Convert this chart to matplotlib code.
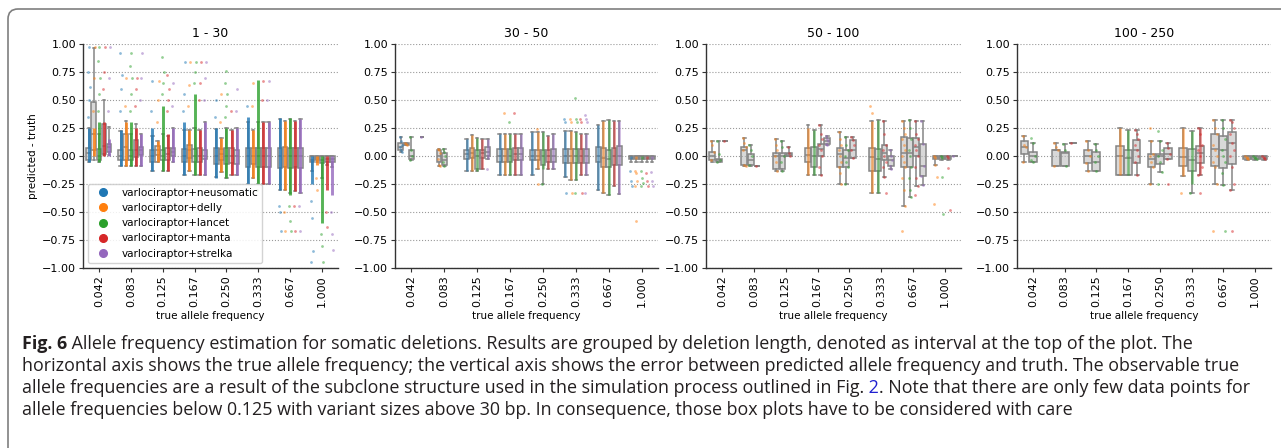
# Fig. 6 - allele frequency error for somatic deletions, 4 panels by deletion length
import numpy as np
import matplotlib.pyplot as plt
from matplotlib.lines import Line2D
from matplotlib.patches import FancyBboxPatch
from matplotlib.transforms import IdentityTransform
from matplotlib.text import Annotation

N = None

FREQS = ['0.042', '0.083', '0.125', '0.167', '0.250', '0.333', '0.667', '1.000']
CALLERS = ['neusomatic', 'delly', 'lancet', 'manta', 'strelka']
COLORS = ['#1f77b4', '#ff7f0e', '#2ca02c', '#d62728', '#9467bd']
TITLES = ['1 - 30', '30 - 50', '50 - 100', '100 - 250']
PANEL_CALLERS = [[0, 1, 2, 3, 4], [0, 1, 2, 3, 4], [1, 2, 3, 4], [1, 2, 3]]

# boxes: (whisker low, q1, median, q3, whisker high) per caller, per frequency
box_1_30 = [
    [(-0.05, -0.04, 0.03, 0.07, 0.25), (-0.09, -0.04, 0.0, 0.05, 0.22), (-0.13, -0.05, 0.0, 0.05, 0.18),
     (-0.17, -0.05, 0.0, 0.06, 0.23), (-0.19, -0.07, 0.0, 0.07, 0.24), (-0.25, -0.1, 0.0, 0.07, 0.3),
     (-0.3, -0.11, 0.0, 0.07, 0.33), (-0.13, -0.05, -0.04, 0.0, 0.0)],
    [(-0.04, 0.05, 0.2, 0.48, 0.96), (-0.09, -0.04, 0.08, 0.2, 0.31), (-0.05, 0.01, 0.05, 0.09, 0.13),
     (-0.13, -0.02, 0.05, 0.1, 0.23), (-0.14, -0.04, 0.02, 0.06, 0.16), (-0.2, -0.07, 0.0, 0.07, 0.23),
     (-0.3, -0.1, 0.0, 0.08, 0.31), (-0.05, -0.04, -0.02, 0.0, 0.0)],
    [(-0.05, -0.04, 0.0, 0.06, 0.2), (-0.09, -0.04, 0.0, 0.05, 0.2), (-0.13, -0.04, 0.0, 0.05, 0.2),
     (-0.17, -0.05, 0.0, 0.06, 0.25), (-0.2, -0.07, 0.0, 0.07, 0.25), (-0.25, -0.1, 0.0, 0.07, 0.3),
     (-0.33, -0.11, 0.0, 0.07, 0.33), (-0.2, -0.06, -0.04, 0.0, 0.0)],
    [(0.01, 0.02, 0.09, 0.29, 0.5), (-0.09, -0.01, 0.05, 0.14, 0.29), (-0.13, -0.04, 0.02, 0.07, 0.18),
     (-0.17, -0.05, 0.0, 0.07, 0.23), (-0.17, -0.06, 0.0, 0.07, 0.23), (-0.25, -0.1, 0.0, 0.07, 0.3),
     (-0.31, -0.1, 0.0, 0.07, 0.31), (-0.08, -0.05, -0.03, 0.0, 0.0)],
    [(0.01, 0.04, 0.08, 0.11, 0.26), (-0.09, 0.01, 0.05, 0.08, 0.2), (-0.05, 0.0, 0.04, 0.07, 0.25),
     (-0.17, -0.03, 0.0, 0.05, 0.3), (-0.17, -0.07, 0.0, 0.05, 0.25), (-0.25, -0.1, 0.0, 0.07, 0.3),
     (-0.33, -0.11, 0.0, 0.07, 0.33), (-0.1, -0.05, -0.03, 0.0, 0.0)],
]
box_30_50 = [
    [(0.04, 0.05, 0.08, 0.12, 0.17), N, (-0.13, -0.03, 0.02, 0.05, 0.15), (-0.17, -0.05, 0.0, 0.06, 0.2),
     (-0.17, -0.04, 0.0, 0.05, 0.21), (-0.19, -0.06, 0.0, 0.06, 0.22), (-0.3, -0.05, 0.0, 0.08, 0.28),
     (-0.05, -0.03, -0.01, 0.0, 0.0)],
    [(0.1, 0.1, 0.11, 0.12, 0.12), (-0.09, -0.05, 0.0, 0.05, 0.06), (-0.13, -0.02, 0.03, 0.07, 0.19),
     (-0.17, -0.05, 0.0, 0.06, 0.2), (-0.12, -0.04, 0.0, 0.05, 0.21), (-0.21, -0.06, 0.0, 0.06, 0.22),
     (-0.33, -0.1, -0.02, 0.07, 0.31), (-0.05, -0.03, -0.01, 0.0, 0.0)],
    [(-0.04, -0.03, 0.0, 0.05, 0.17), (-0.09, -0.08, -0.04, 0.03, 0.06), (-0.13, -0.12, 0.0, 0.05, 0.16),
     (-0.17, -0.05, 0.0, 0.06, 0.2), (-0.25, -0.08, 0.0, 0.05, 0.21), (-0.21, -0.06, 0.0, 0.06, 0.21),
     (-0.35, -0.1, -0.03, 0.05, 0.32), (-0.05, -0.03, -0.01, 0.0, 0.0)],
    [N, N, (-0.12, -0.02, 0.03, 0.05, 0.15), (-0.17, -0.04, 0.02, 0.07, 0.2),
     (-0.12, -0.05, 0.0, 0.05, 0.18), (-0.17, -0.06, 0.0, 0.06, 0.2), (-0.27, -0.08, 0.0, 0.07, 0.31),
     (-0.05, -0.03, -0.01, 0.0, 0.0)],
    [(0.17,), N, (-0.03, 0.0, 0.04, 0.08, 0.15), (-0.17, -0.04, 0.02, 0.07, 0.2),
     (-0.12, -0.05, 0.0, 0.06, 0.2), (-0.17, -0.06, 0.0, 0.06, 0.2), (-0.34, -0.08, 0.0, 0.09, 0.31),
     (-0.05, -0.03, -0.01, 0.0, 0.0)],
]
box_50_100 = [
    [(-0.05, -0.04, 0.0, 0.04, 0.13), (-0.09, -0.08, 0.05, 0.08, 0.16), (-0.13, -0.12, 0.0, 0.03, 0.15),
     (-0.17, -0.05, 0.01, 0.07, 0.28), (-0.25, -0.1, 0.02, 0.07, 0.21), (-0.33, -0.13, -0.01, 0.07, 0.31),
     (-0.45, -0.1, 0.03, 0.17, 0.31), (-0.08, -0.03, -0.01, 0.0, 0.0)],
    [(-0.05, -0.05, -0.04, -0.03, 0.13), (-0.09, -0.08, -0.04, 0.02, 0.1), (-0.13, -0.12, 0.0, 0.03, 0.13),
     (-0.17, -0.1, 0.0, 0.08, 0.23), (-0.25, -0.1, -0.02, 0.05, 0.17), (-0.33, -0.13, -0.03, 0.06, 0.32),
     (-0.37, -0.1, 0.03, 0.16, 0.32), (-0.04, -0.03, -0.01, 0.0, 0.0)],
    [(0.13,), (-0.09,), (0.0, 0.0, 0.02, 0.03, 0.08), (-0.17, 0.0, 0.06, 0.11, 0.28),
     (-0.02, -0.02, 0.05, 0.14, 0.17), (-0.19, -0.04, 0.03, 0.1, 0.31), (-0.27, 0.0, 0.08, 0.16, 0.31),
     (-0.04, -0.03, -0.01, 0.0, 0.0)],
    [N, N, N, (0.1, 0.11, 0.13, 0.16, 0.18), N, (-0.12, -0.09, -0.04, 0.0, 0.05),
     (-0.26, -0.18, -0.09, 0.11, 0.31), (0.0,)],
]
box_100_250 = [
    [(-0.05, 0.02, 0.08, 0.13, 0.18), (-0.09, -0.09, 0.05, 0.05, 0.12), (-0.13, -0.06, 0.0, 0.05, 0.13),
     (-0.17, -0.17, 0.0, 0.09, 0.25), (-0.25, -0.1, -0.03, 0.02, 0.13), (-0.18, -0.09, -0.01, 0.07, 0.25),
     (-0.25, -0.09, 0.06, 0.2, 0.32), (-0.04, -0.03, -0.01, 0.0, 0.0)],
    [(-0.05, -0.05, 0.0, 0.04, 0.12), (-0.09, -0.09, 0.03, 0.04, 0.11), (-0.13, -0.13, -0.05, 0.04, 0.11),
     (-0.17, -0.17, -0.02, 0.05, 0.23), (-0.14, -0.07, 0.0, 0.02, 0.13), (-0.33, -0.13, -0.04, 0.06, 0.22),
     (-0.26, -0.11, 0.05, 0.18, 0.32), (-0.04, -0.03, -0.01, 0.0, 0.0)],
    [N, (0.12,), N, (-0.17, -0.06, 0.05, 0.14, 0.23), (-0.03, -0.03, 0.02, 0.07, 0.12),
     (-0.17, -0.06, 0.03, 0.09, 0.25), (-0.3, -0.07, 0.12, 0.21, 0.32), (-0.04, -0.03, -0.01, 0.0, 0.0)],
]

# dense runs of strip points (low, high) per caller, per frequency
dense_1_30 = [
    [(-0.05, 0.25), (-0.09, 0.23), (-0.13, 0.25), (-0.17, 0.3), (-0.2, 0.25), (-0.25, 0.35), (-0.3, 0.34), (-0.25, 0.0)],
    [(0.0, 0.25), (-0.09, 0.3), (-0.05, 0.13), (-0.13, 0.23), (-0.14, 0.16), (-0.2, 0.23), (-0.3, 0.31), (-0.08, 0.0)],
    [(-0.05, 0.3), (-0.09, 0.3), (-0.13, 0.45), (-0.17, 0.55), (-0.2, 0.25), (-0.25, 0.68), (-0.35, 0.34), (-0.6, 0.0)],
    [(0.0, 0.3), (-0.09, 0.25), (-0.13, 0.2), (-0.17, 0.23), (-0.17, 0.23), (-0.25, 0.3), (-0.31, 0.31), (-0.3, 0.0)],
    [(0.0, 0.15), (-0.09, 0.2), (-0.05, 0.25), (-0.17, 0.3), (-0.17, 0.25), (-0.25, 0.3), (-0.33, 0.33), (-0.35, 0.0)],
]
dense_30_50 = [
    [N, N, (-0.13, 0.15), (-0.17, 0.2), (-0.17, 0.21), (-0.19, 0.22), (-0.3, 0.28), (-0.03, 0.0)],
    [N, N, (-0.13, 0.19), (-0.17, 0.2), (-0.12, 0.21), (-0.21, 0.22), (-0.33, 0.31), (-0.03, 0.0)],
    [N, N, (-0.13, 0.16), (-0.17, 0.2), (-0.12, 0.21), (-0.21, 0.21), (-0.35, 0.32), (-0.03, 0.0)],
    [N, N, (-0.12, 0.15), (-0.17, 0.2), (-0.12, 0.18), (-0.17, 0.2), (-0.27, 0.31), (-0.03, 0.0)],
    [N, N, (-0.03, 0.15), (-0.17, 0.2), (-0.12, 0.2), (-0.17, 0.2), (-0.34, 0.31), (-0.03, 0.0)],
]
dense_50_100 = [
    [N, N, N, (-0.17, 0.25), N, (-0.33, 0.31), N, (-0.03, 0.0)],
    [N, N, N, (-0.17, 0.23), N, (-0.33, 0.32), N, (-0.03, 0.0)],
    [N, N, N, N, N, N, N, (-0.03, 0.0)],
    [N, N, N, N, N, N, N, N],
]
dense_100_250 = [
    [N, N, N, (-0.17, 0.25), N, (-0.18, 0.25), N, (-0.03, 0.0)],
    [N, N, N, (-0.17, 0.23), N, (-0.25, 0.22), N, (-0.03, 0.0)],
    [N, N, N, N, N, (-0.17, 0.25), N, (-0.03, 0.0)],
]

# scattered single points per caller, per frequency
pts_1_30 = [
    [[0.35, 0.5, 0.62, 0.75, 0.97], [0.4, 0.6, 0.72, 0.92], [0.4, 0.67], [0.4, 0.55, 0.84], [0.35, 0.5],
     [0.45, -0.3], [-0.45, -0.5, -0.67], [-0.4, -0.55, -0.85, -0.95]],
    [[0.4, 0.7, 0.97], [0.45, 0.7], [0.3, 0.5, 0.67], [0.45, 0.63, 0.84], [0.3, 0.55], [0.45, 0.65],
     [-0.5, -0.67], [-0.2, -0.3]],
    [[0.4, 0.55, 0.7, 0.85, 0.97], [0.4, 0.55, 0.7, 0.8, 0.92], [0.55, 0.65, 0.75, 0.88], [0.65, 0.75, 0.84],
     [0.35, 0.45, 0.55, 0.65, 0.76], [-0.3], [-0.45, -0.58, -0.67], [-0.7, -0.8, -0.95]],
    [[0.6, 0.75, 0.97], [0.45, 0.6, 0.7], [0.4, 0.5, 0.6, 0.72], [0.5, 0.65, 0.84], [0.4], [0.5, 0.67],
     [-0.45, -0.67], [-0.5, -0.63]],
    [[0.4, 0.7, 0.97], [0.5, 0.7, 0.92], [0.45, 0.65], [0.5, 0.7, 0.84], [0.4, 0.6], [0.5, 0.67],
     [-0.45, -0.67], [-0.5, -0.7, -0.84]],
]
pts_30_50 = [
    [[0.17, 0.13, 0.1, 0.08, 0.05, 0.04], [], [], [], [], [0.33, 0.3, -0.33], [], [-0.13, -0.22, -0.27]],
    [[0.12, 0.11, 0.1], [0.06, 0.05, 0.03, -0.03, -0.08, -0.09], [], [0.38], [0.24, -0.25], [0.33, 0.3, -0.33],
     [], [-0.13, -0.15, -0.22, -0.27, -0.58]],
    [[0.17, 0.05, 0.0, -0.04], [0.06, 0.04, 0.0, -0.05, -0.09], [], [0.3], [-0.25], [0.52, 0.33, 0.3, -0.33],
     [], [-0.13, -0.2, -0.24, -0.27]],
    [[], [], [], [0.38], [], [0.33, 0.3, -0.33], [], [-0.15, -0.22, -0.27]],
    [[0.17], [], [-0.12], [], [], [0.37, 0.33, 0.3, -0.33], [], [-0.14, -0.22, -0.27]],
]
pts_50_100 = [
    [[0.13, 0.1, 0.04, -0.04], [0.16, 0.12, 0.08, 0.05, -0.08, -0.09], [0.15, 0.1, 0.05, 0.0, -0.05, -0.13], [],
     [0.21, 0.15, 0.1, 0.05, 0.0, -0.05, -0.1, -0.15, -0.25], [0.45, 0.38],
     [0.31, 0.25, 0.2, 0.15, 0.1, 0.05, 0.0, -0.05, -0.1, -0.2, -0.3, -0.45, -0.67], [0.0, -0.08, -0.19, -0.43]],
    [[0.13, 0.02, -0.04, -0.05], [0.1, 0.05, 0.0, -0.08], [0.13, 0.08, 0.0, -0.05, -0.13], [],
     [0.17, 0.1, 0.05, 0.0, -0.05, -0.1, -0.25], [], [0.32, 0.25, 0.15, 0.05, 0.0, -0.1, -0.2, -0.3, -0.37],
     [0.0, -0.19, -0.52]],
    [[0.13], [-0.09], [0.08, 0.03, 0.0], [0.28, 0.2, 0.15, 0.1, 0.05, 0.0, -0.1, -0.17], [0.17, 0.14, 0.1, 0.05, -0.02],
     [0.31, 0.2, 0.1, 0.05, 0.0, -0.05, -0.1, -0.19, -0.33], [0.31, 0.2, 0.15, 0.1, 0.05, 0.0, -0.1, -0.2, -0.27, -0.35],
     [0.0, -0.11, -0.48]],
    [[], [], [], [0.18, 0.15, 0.13, 0.11, 0.1], [], [0.05, 0.0, -0.04, -0.09, -0.12], [0.31, 0.11, -0.09, -0.18, -0.26],
     [0.0]],
]
pts_100_250 = [
    [[0.18, 0.1, 0.08, -0.05], [0.12, 0.08, 0.05, -0.09], [0.13, 0.05, 0.0, -0.06, -0.13], [],
     [0.25, 0.13, 0.02, 0.0, -0.05, -0.1, -0.25], [-0.33], [0.32, 0.25, 0.2, 0.1, 0.05, 0.0, -0.05, -0.1, -0.25, -0.67],
     [0.0, -0.02, -0.03]],
    [[0.16, 0.12, 0.0, -0.04, -0.05], [0.11, 0.05, -0.09], [0.11, 0.05, 0.0, -0.05, -0.13], [],
     [0.22, 0.13, 0.05, 0.0, -0.05, -0.14, -0.25], [-0.33], [0.32, 0.25, 0.15, 0.05, 0.0, -0.05, -0.15, -0.26, -0.67],
     [0.0, -0.02, -0.03]],
    [[], [0.12], [], [0.23, 0.2, 0.15, 0.1, 0.05, 0.0, -0.05, -0.17], [0.12, 0.07, 0.02, -0.03, -0.25],
     [0.25, 0.2, 0.1, 0.05, 0.0, -0.1, -0.17, -0.33], [0.32, 0.3, 0.25, 0.2, 0.12, 0.05, 0.0, -0.1, -0.25, -0.3, -0.67],
     [0.0, -0.02, -0.03]],
]

BOXES = [box_1_30, box_30_50, box_50_100, box_100_250]
DENSE = [dense_1_30, dense_30_50, dense_50_100, dense_100_250]
POINTS = [pts_1_30, pts_30_50, pts_50_100, pts_100_250]

# positions of the axes in pixels (left, right), figure is 1281 x 448
AX_X = [(83, 338), (395, 658), (706, 961), (1017, 1271)]
AX_TOP, AX_BOTTOM = 44, 268
W, H = 1281, 448


def draw_panel(ax, callers, boxes, dense, points, dense_lw, dense_alpha):
    n = len(callers)
    slot = 0.8 / n
    for k, ci in enumerate(callers):
        off = -0.4 + slot * (k + 0.5)
        col = COLORS[ci]
        stats, pos = [], []
        for i, b in enumerate(boxes[k]):
            if b is None:
                continue
            if len(b) == 1:
                b = b * 5
            stats.append(dict(whislo=b[0], q1=b[1], med=b[2], q3=b[3], whishi=b[4]))
            pos.append(i + off)
        if stats:
            ax.bxp(stats, positions=pos, widths=slot * 0.92, patch_artist=True, showfliers=False,
                   manage_ticks=False,
                   boxprops=dict(facecolor=(0.72, 0.72, 0.72, 0.55), edgecolor='#858585', linewidth=1.1),
                   whiskerprops=dict(color='#858585', linewidth=1.1),
                   capprops=dict(color='#858585', linewidth=1.1),
                   medianprops=dict(color='#858585', linewidth=1.1), zorder=2)
        for i, d in enumerate(dense[k]):
            if d is None:
                continue
            ax.vlines(i + off, d[0], d[1], color=col, lw=dense_lw, alpha=dense_alpha, zorder=3)
        for i, p in enumerate(points[k]):
            if not p:
                continue
            xs = [i + off + ((j % 3) - 1) * slot * 0.2 for j in range(len(p))]
            ax.scatter(xs, p, s=4, color=col, alpha=0.5, linewidths=0, zorder=3)


fig = plt.figure(figsize=(W / 100, H / 100), dpi=100)
plt.rcParams['font.family'] = 'DejaVu Sans'

yt = np.arange(-1.0, 1.01, 0.25)
for p in range(4):
    x0, x1 = AX_X[p]
    ax = fig.add_axes([x0 / W, 1 - AX_BOTTOM / H, (x1 - x0) / W, (AX_BOTTOM - AX_TOP) / H])
    if p == 0:
        draw_panel(ax, PANEL_CALLERS[p], BOXES[p], DENSE[p], POINTS[p], 2.1, 0.8)
    else:
        draw_panel(ax, PANEL_CALLERS[p], BOXES[p], DENSE[p], POINTS[p], 1.8, 0.55)
    ax.set_xlim(-0.5, len(FREQS) - 0.5)
    ax.set_ylim(-1.0, 1.0)
    ax.set_xticks(range(len(FREQS)))
    ax.set_xticklabels(FREQS, rotation=90, fontsize=8)
    ax.set_yticks(yt)
    ax.set_yticklabels(['%.2f' % v if v >= 0 else '\u2212%.2f' % -v for v in yt], fontsize=8)
    ax.yaxis.grid(True, linestyle=':', color='#9a9a9a', linewidth=0.8)
    ax.set_axisbelow(True)
    for s in ['top', 'right']:
        ax.spines[s].set_visible(False)
    for s in ['left', 'bottom']:
        ax.spines[s].set_color('#333333')
        ax.spines[s].set_linewidth(1.0)
    ax.tick_params(length=3, width=0.8, color='#333333', pad=2)
    ax.set_title(TITLES[p], fontsize=9, pad=5)
    ax.set_xlabel('true allele frequency', fontsize=7.5, labelpad=3)
    if p == 0:
        ax.set_ylabel('predicted - truth', fontsize=7.5, labelpad=3)
        handles = [Line2D([], [], ls='', marker='o', markersize=5.5, color=c) for c in COLORS]
        ax.legend(handles, ['varlociraptor+' + c for c in CALLERS], loc='lower left', fontsize=7.5,
                  framealpha=0.85, edgecolor='#cccccc')

# rounded frame around the figure
frame = FancyBboxPatch((8, -60), 1400, H - 9 + 60, boxstyle='round,pad=0,rounding_size=10',
                       transform=IdentityTransform(), fill=False, edgecolor='#7f7f7f', linewidth=1.2)
fig.patches.append(frame)

# caption
cap_font = dict(family='Open Sans', fontsize=12.9, color='#231f20')
cap_x = 22 / W
cap_y = [344, 366, 388, 410]
b = fig.text(cap_x, 1 - cap_y[0] / H, 'Fig. 6', fontweight='bold', va='center', **cap_font)
fig.add_artist(Annotation(
    ' Allele frequency estimation for somatic deletions. Results are grouped by deletion length, '
    'denoted as interval at the top of the plot. The', xy=(1, 0), xycoords=b, va='bottom', ha='left', **cap_font))
fig.text(cap_x, 1 - cap_y[1] / H, 'horizontal axis shows the true allele frequency; the vertical axis shows the '
         'error between predicted allele frequency and truth. The observable true', va='center', **cap_font)
t3 = fig.text(cap_x, 1 - cap_y[2] / H, 'allele frequencies are a result of the subclone structure used in the '
              'simulation process outlined in Fig.', va='center', **cap_font)
t3b = Annotation(' 2', xy=(1, 0), xycoords=t3, va='bottom', ha='left',
                 family='Open Sans', fontsize=12.9, color='#2020d0')
fig.add_artist(t3b)
fig.add_artist(Annotation('. Note that there are only few data points for', xy=(1, 0),
                          xycoords=t3b, va='bottom', ha='left', **cap_font))
fig.text(cap_x, 1 - cap_y[3] / H, 'allele frequencies below 0.125 with variant sizes above 30 bp. In consequence, '
         'those box plots have to be considered with care', va='center', **cap_font)

fig.savefig('out.png', dpi=100)
